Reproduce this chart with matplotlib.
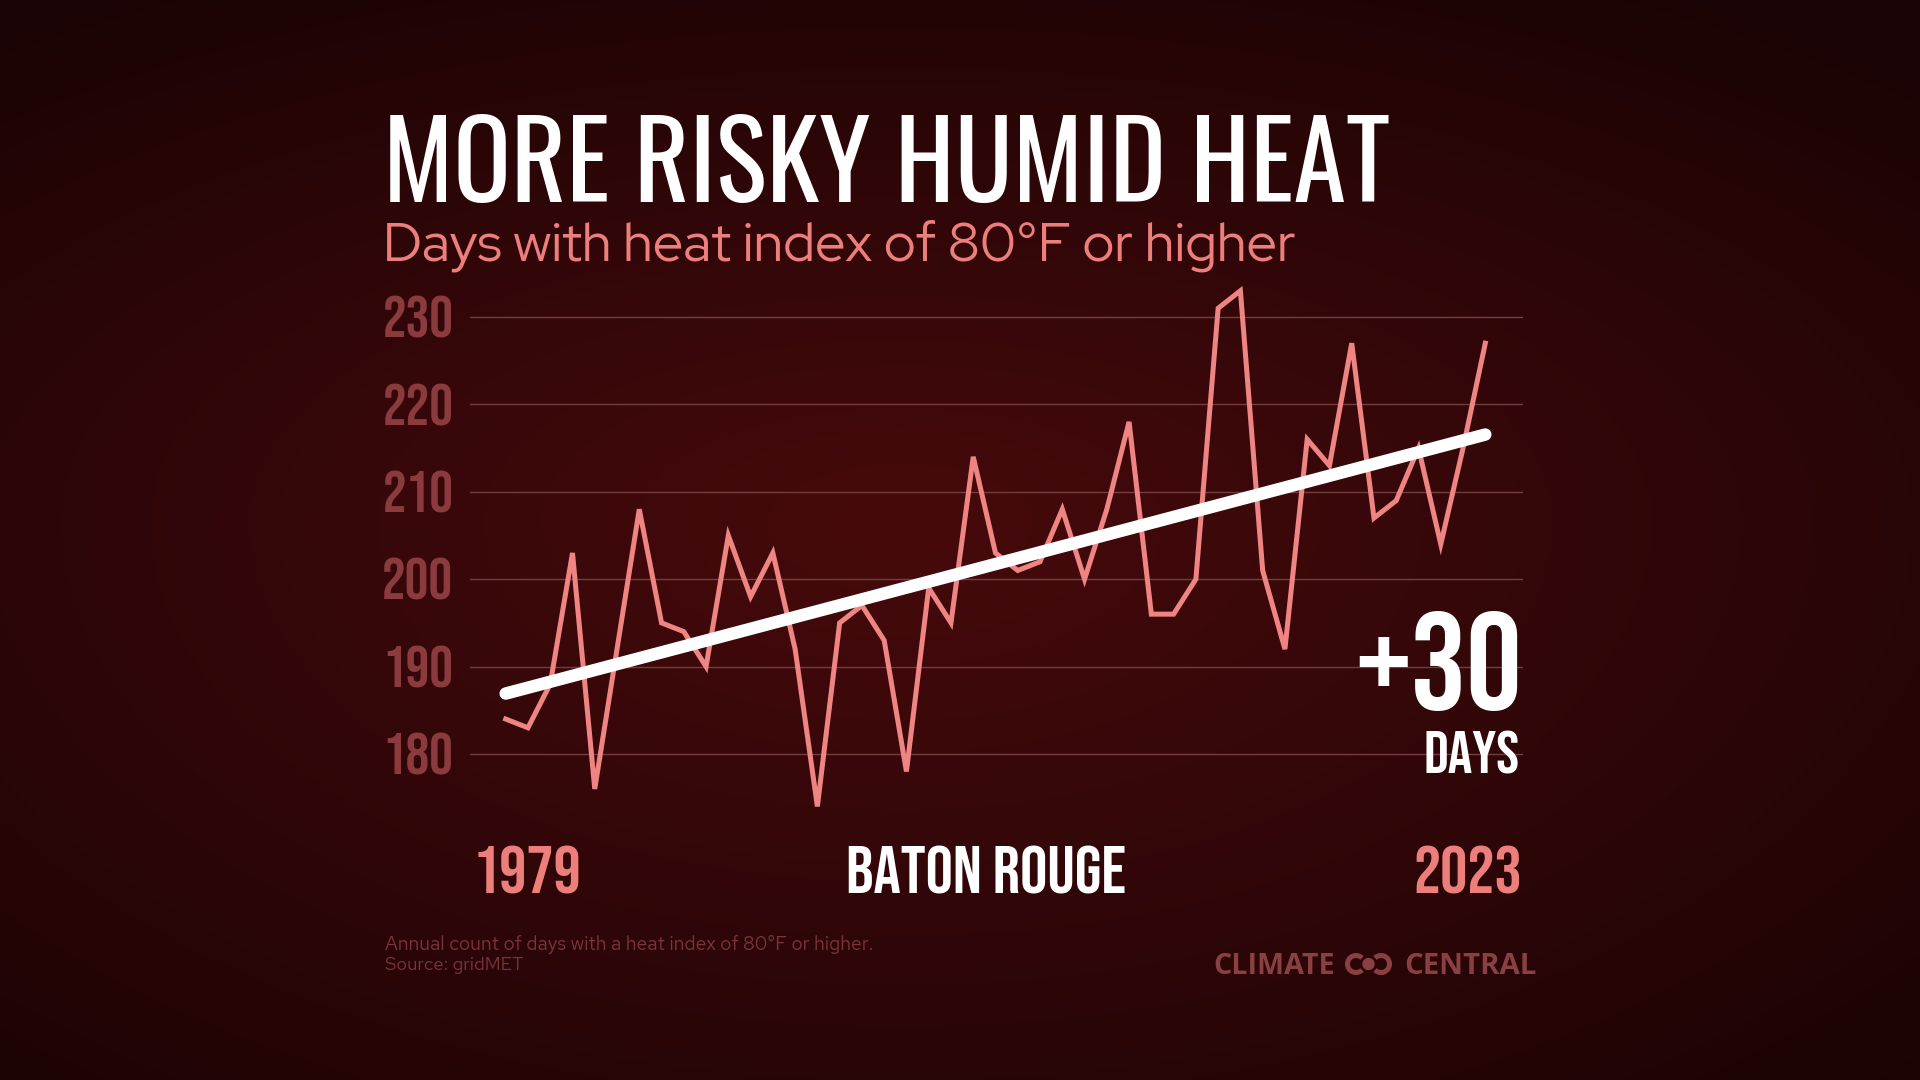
import numpy as np
import matplotlib
matplotlib.use("Agg")
import matplotlib.pyplot as plt
from matplotlib import font_manager as fm
from matplotlib.patches import Circle, Arc

# ---------------- data ----------------
years = list(range(1979, 2024))
days = [184, 183, 188, 203, 176, 192, 208, 195, 194, 190,
        205, 198, 203, 192, 174, 195, 197, 193, 178, 199,
        195, 214, 203, 201, 202, 208, 200, 208, 218, 196,
        196, 200, 231, 233, 201, 192, 216, 213, 227, 207,
        209, 215, 204, 215, 227]
ytick_values = [180, 190, 200, 210, 220, 230]
title = "MORE RISKY HUMID HEAT"
subtitle = "Days with heat index of 80°F or higher"
city = "BATON ROUGE"
change_label = "+30"
change_unit = "DAYS"
footnote = ["Annual count of days with a heat index of 80°F or higher.", "Source: gridMET"]

# ---------------- fonts ----------------
avail = {f.name for f in fm.fontManager.ttflist}
def pick(*names):
    for n in names:
        if n in avail:
            return n
    return "DejaVu Sans"

COND = pick("Bebas Neue", "Oswald", "Anton", "Liberation Sans Narrow")
TITLEF = pick("Oswald", "Bebas Neue")
SUBF = pick("Red Hat Display", "Lato", "Open Sans")
FOOTF = pick("Red Hat Text", "Red Hat Display", "Lato")
LOGOF = pick("Open Sans", "Lato")

W, H = 1920, 1080
fig = plt.figure(figsize=(W / 100, H / 100), dpi=100)

# ---------------- background radial gradient ----------------
bg = fig.add_axes([0, 0, 1, 1], zorder=0)
yy, xx = np.mgrid[0:H:2, 0:W:2]
cx, cy = 900.0, 520.0
rx = 1468.0
ry = np.where(yy < cy, 634.0, 812.0)
t = np.sqrt(((xx - cx) / rx) ** 2 + ((yy - cy) / ry) ** 2)
t = np.clip(t, 0, 1)
c0 = np.array([0x47, 0x0a, 0x0c]) / 255.0
c1 = np.array([0x1a, 0x03, 0x04]) / 255.0
img = c0[None, None, :] * (1 - t[..., None]) + c1[None, None, :] * t[..., None]
bg.imshow(img, extent=[0, W, H, 0], aspect="auto", interpolation="bilinear")
bg.set_xlim(0, W)
bg.set_ylim(H, 0)
bg.axis("off")

# ---------------- chart axes ----------------
x_left, x_right = 470.0, 1523.0
y_top_px, y_bot_px = 317.0 - 6 * 8.74, 754.0 + 10 * 8.74
ax = fig.add_axes([x_left / W, 1 - y_bot_px / H, (x_right - x_left) / W, (y_bot_px - y_top_px) / H],
                  zorder=1)
ax.set_facecolor("none")
px_per_year = (1485.3 - 505.7) / 44.0
ax.set_xlim(1979 - (505.7 - x_left) / px_per_year, 2023 + (x_right - 1485.3) / px_per_year)
ax.set_ylim(170, 236)
for s in ax.spines.values():
    s.set_visible(False)
ax.set_xticks([])
ax.set_yticks(ytick_values)
ax.tick_params(axis="y", length=0, pad=12, labelsize=42.5, labelcolor="#8b3b3e")
for lab in ax.get_yticklabels():
    lab.set_fontfamily(COND)
ax.grid(axis="y", color="#7b4546", linewidth=1.0, alpha=0.9)
ax.set_axisbelow(True)

ax.plot(years, days, color="#ef8583", linewidth=3.6, solid_joinstyle="miter", zorder=3)
coef = np.polyfit(years, days, 1)
trend_x = np.array([years[0], years[-1]])
ax.plot(trend_x, np.polyval(coef, trend_x), color="white", linewidth=9, solid_capstyle="round", zorder=4)

# ---------------- overlay (pixel coordinates) ----------------
ov = fig.add_axes([0, 0, 1, 1], zorder=2)
ov.set_xlim(0, W)
ov.set_ylim(H, 0)
ov.axis("off")
ov.patch.set_alpha(0)

t_title = ov.text(383, 202, title, color="white", fontsize=80, family=TITLEF, ha="left", va="baseline")
t_sub = ov.text(383, 261, subtitle, color="#ec7e7b", fontsize=39, family=SUBF, ha="left", va="baseline")

ov.text(1522, 710, change_label, color="white", fontsize=100, family=COND, ha="right", va="baseline")
ov.text(1520, 774, change_unit, color="white", fontsize=44, family=COND, ha="right", va="baseline")

ov.text(473, 894, str(years[0]), color="#ec7e7b", fontsize=49, family=COND, ha="left", va="baseline")
ov.text(986, 894, city, color="white", fontsize=49, family=COND, ha="center", va="baseline")
ov.text(1522, 894, str(years[-1]), color="#ec7e7b", fontsize=49, family=COND, ha="right", va="baseline")

t_f1 = ov.text(385, 950, footnote[0], color="#7a3538", fontsize=13.3, family=FOOTF, ha="left", va="baseline")
ov.text(385, 970, footnote[1], color="#7a3538", fontsize=13.3, family=FOOTF, ha="left", va="baseline")

logo_c = "#8a4043"
t_l1 = ov.text(1213, 974, "CLIMATE", color=logo_c, fontsize=19, family=LOGOF, fontweight="bold",
               ha="left", va="baseline")
t_l2 = ov.text(1537, 974, "CENTRAL", color=logo_c, fontsize=19, family=LOGOF, fontweight="bold",
               ha="right", va="baseline")
ov.add_patch(Arc((1356, 964), 17, 17, theta1=45, theta2=315, edgecolor=logo_c, linewidth=3.6))
ov.add_patch(Arc((1381, 964), 17, 17, theta1=-135, theta2=135, edgecolor=logo_c, linewidth=3.6))
ov.add_patch(Circle((1368.5, 964), 5.5, color=logo_c))

# fit a few texts to the widths measured on the reference (in pixels)
fig.canvas.draw()
r = fig.canvas.get_renderer()
for tobj, target in [(t_title, 1007.0), (t_sub, 913.0), (t_f1, 488.0), (t_l1, 121.0), (t_l2, 132.0)]:
    w = tobj.get_window_extent(r).width
    tobj.set_fontsize(tobj.get_fontsize() * target / w)

fig.savefig("out.png", dpi=100)
